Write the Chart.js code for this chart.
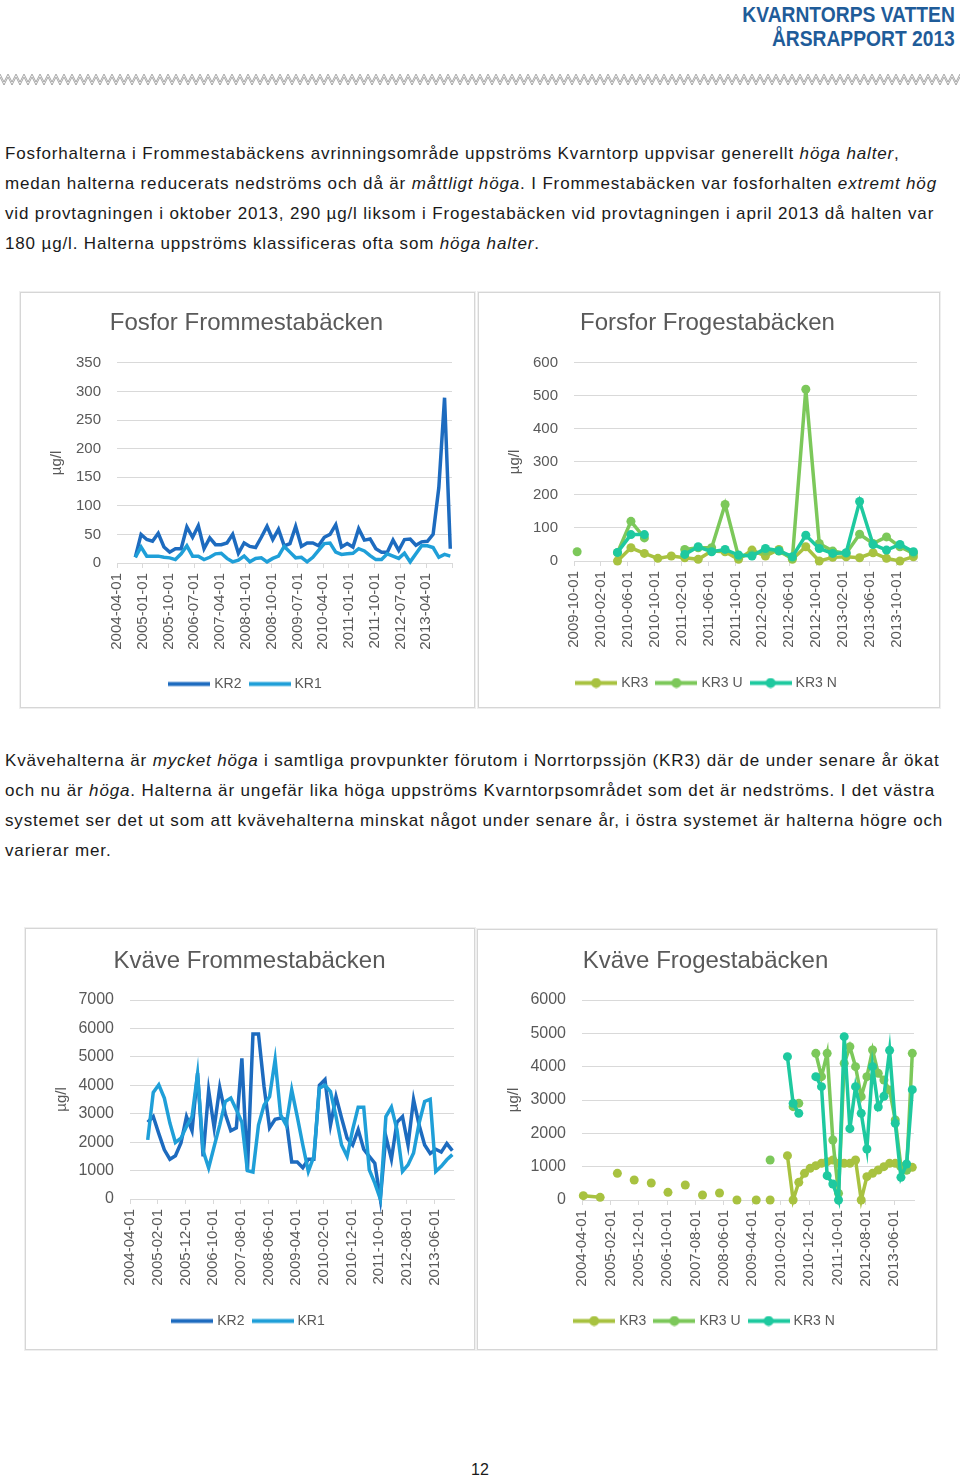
<!DOCTYPE html>
<html lang="sv">
<head>
<meta charset="utf-8">
<title>Kvarntorps vatten – årsrapport 2013</title>
<script src="https://cdn.jsdelivr.net/npm/chart.js@4.4.1/dist/chart.umd.min.js"></script>
<style>
  body { margin: 0; width: 960px; height: 1478px; position: relative; background: #fff; overflow: hidden;
         font-family: "Liberation Sans", Arial, sans-serif; }
  .hdr { position: absolute; right: 5px; top: 3px; text-align: right; font-family: "Liberation Sans", Arial, sans-serif;
         font-weight: bold; font-size: 22px; line-height: 24px; color: #1f5c99;
         transform: scaleX(0.875); transform-origin: right top; }
  .zig { position: absolute; left: 0; top: 72px; }
  .txt { position: absolute; left: 5px; font-size: 17px; line-height: 30px; color: #1a1a1a; white-space: nowrap; letter-spacing: 0.85px; }
  .box { position: absolute; box-sizing: border-box; border: 1px solid #d6d6d6; box-shadow: 0 0 0 1px #efefef; }
  .box canvas { position: absolute; left: -1px; top: -1px; }
  .pg { position: absolute; left: 0; width: 960px; top: 1461px; text-align: center; font-size: 16px; color: #1a1a1a; }
</style>
</head>
<body>

<div class="hdr">KVARNTORPS VATTEN<br>ÅRSRAPPORT 2013</div>

<svg class="zig" width="960" height="16">
  <defs>
    <pattern id="zz" width="8" height="16" patternUnits="userSpaceOnUse">
      <path d="M0 2 L4 10 L8 2" fill="none" stroke="#8c8c8c" stroke-width="0.8"/>
      <path d="M0 5 L4 13 L8 5" fill="none" stroke="#8c8c8c" stroke-width="0.8"/>
    </pattern>
  </defs>
  <rect width="960" height="16" fill="url(#zz)"/>
</svg>

<div class="txt" style="top:139px">
Fosforhalterna i Frommestabäckens avrinningsområde uppströms Kvarntorp uppvisar generellt <i>höga halter</i>,<br>
medan halterna reducerats nedströms och då är <i>måttligt höga</i>. I Frommestabäcken var fosforhalten <i>extremt hög</i><br>
vid provtagningen i oktober 2013, 290 µg/l liksom i Frogestabäcken vid provtagningen i april 2013 då halten var<br>
180 µg/l. Halterna uppströms klassificeras ofta som <i>höga halter</i>.
</div>

<div class="box" style="left:20px;top:292px;width:455px;height:416px"><canvas id="fosforFromme" width="455" height="416"></canvas></div>
<div class="box" style="left:478px;top:292px;width:462px;height:416px"><canvas id="fosforFroge" width="462" height="416"></canvas></div>

<div class="txt" style="top:746px">
Kvävehalterna är <i>mycket höga</i> i samtliga provpunkter förutom i Norrtorpssjön (KR3) där de under senare år ökat<br>
och nu är <i>höga</i>. Halterna är ungefär lika höga uppströms Kvarntorpsområdet som det är nedströms. I det västra<br>
systemet ser det ut som att kvävehalterna minskat något under senare år, i östra systemet är halterna högre och<br>
varierar mer.
</div>

<div class="box" style="left:25px;top:928px;width:450px;height:422px"><canvas id="kvaveFromme" width="450" height="422"></canvas></div>
<div class="box" style="left:477px;top:929px;width:460px;height:421px"><canvas id="kvaveFroge" width="460" height="421"></canvas></div>

<div class="pg">12</div>

<script>
// Provtagningsdatum Frommestabäcken (KR1, KR2)
const frommeDates = [
  '2004-10-13', '2004-12-13',
  '2005-02-13', '2005-04-13', '2005-06-13', '2005-08-13', '2005-10-13', '2005-12-13',
  '2006-02-13', '2006-04-13', '2006-06-13', '2006-08-13', '2006-10-13', '2006-12-13',
  '2007-02-13', '2007-04-13', '2007-06-13', '2007-08-13', '2007-10-13', '2007-12-13',
  '2008-02-13', '2008-04-13', '2008-06-13', '2008-08-13', '2008-10-13', '2008-12-13',
  '2009-02-13', '2009-04-13', '2009-06-13', '2009-08-13', '2009-10-13', '2009-12-13',
  '2010-02-13', '2010-04-13', '2010-06-13', '2010-08-13', '2010-10-13', '2010-12-13',
  '2011-02-13', '2011-04-13', '2011-06-13', '2011-08-13', '2011-10-13', '2011-12-13',
  '2012-02-13', '2012-04-13', '2012-06-13', '2012-08-13', '2012-10-13', '2012-12-13',
  '2013-02-13', '2013-04-13', '2013-06-13', '2013-08-13', '2013-10-13', '2013-12-13'
];

// Fosfor µg/l
const kr2Fosfor = [10, 50, 41, 38, 52, 28, 19, 25, 25, 63, 45, 65, 25, 44, 32, 32, 35, 50, 17, 35,
  29, 27, 45, 64, 41, 59, 30, 34, 64, 29, 35, 35, 30, 45, 50, 67, 28, 34, 28, 60,
  40, 42, 25, 19, 19, 40, 22, 41, 42, 31, 37, 38, 50, 132, 289, 25];
const kr1Fosfor = [10, 28, 12, 12, 12, 10, 9, 6, 16, 30, 12, 12, 6, 10, 16, 17, 8, 2, 5, 12,
  2, 8, 9, 2, 8, 12, 29, 19, 9, 10, 2, 10, 22, 34, 35, 19, 15, 16, 17, 25,
  21, 13, 6, 6, 16, 12, 8, 17, 2, 16, 30, 30, 27, 10, 15, 12];

// Kväve µg/l
const kr2Kvave = [2700, 2900, 2300, 1730, 1400, 1520, 1970, 2900, 2400, 4430,
  1500, 3820, 2500, 3920, 3000, 2400, 2500, 4950, 1000, 5800,
  5800, 3960, 2500, 2800, 2850, 2800, 1300, 1300, 1100, 1400,
  1400, 4000, 4200, 2600, 3600, 2850, 2140, 1900, 2440, 1750,
  1500, 1260, 0, 2200, 1400, 2700, 2900, 1900, 3500, 2600,
  1900, 1600, 1750, 1650, 1950, 1700];
const kr1Kvave = [2080, 3750, 4020, 3550, 2670, 1990, 2140, 2550, 2900, 4400,
  1700, 1090, 1850, 2600, 3430, 3550, 3140, 2700, 1000, 950,
  2600, 3300, 3600, 4900, 2960, 2600, 3840, 2900, 1900, 970,
  1500, 3900, 4000, 3780, 2900, 1900, 1500, 2440, 3230, 3230,
  1030, 560, 0, 2900, 3230, 2440, 970, 1200, 1620, 2670,
  3430, 3510, 970, 1150, 1380, 1560];

// Frogestabäcken fosfor (null = inget prov)
const frogeFosforDates = ['2009-10-15', '2010-01-15',
  '2010-04-15', '2010-06-15', '2010-08-15', '2010-10-15', '2010-12-15',
  '2011-02-15', '2011-04-15', '2011-06-15', '2011-08-15', '2011-10-15', '2011-12-15',
  '2012-02-15', '2012-04-15', '2012-06-15', '2012-08-15', '2012-10-15', '2012-12-15',
  '2013-02-15', '2013-04-15', '2013-06-15', '2013-08-15', '2013-10-15', '2013-12-15'];
const kr3Fosfor  = [null, null, 0, 40, 23, 8, 15, 10, 5, 30, 28, 5, 33, 15, 35, 5, 43, 0, 11, 13, 10, 25, 8, 0, 13];
const kr3uFosfor = [28, null, 25, 120, 70, null, null, 35, 40, 40, 171, 13, 20, 30, 30, 8, 520, 53, 30, 23, 81, 53, 73, 43, 23];
const kr3nFosfor = [null, null, 26, 80, 80, null, null, 20, 43, 28, 35, 18, 15, 38, 31, 13, 78, 38, 23, 25, 180, 50, 33, 50, 28];

// Frogestabäcken kväve
const frogeKvaveDates = ['2004-04-15', '2004-10-13', '2005-01-15', '2005-04-15', '2005-07-15', '2005-10-13',
  '2006-01-15', '2006-04-13', '2006-07-15', '2006-10-10', '2007-01-15', '2007-04-13', '2007-07-15',
  '2007-10-15', '2008-01-15', '2008-04-15', '2008-07-15', '2008-10-19', '2009-02-01', '2009-05-13',
  '2009-08-01', '2009-10-10', '2010-01-15',
  '2010-04-13', '2010-06-13', '2010-08-13', '2010-10-13', '2010-12-13',
  '2011-02-13', '2011-04-13', '2011-06-13', '2011-08-13', '2011-10-13', '2011-12-13',
  '2012-02-13', '2012-04-13', '2012-06-13', '2012-08-13', '2012-10-13', '2012-12-13',
  '2013-02-13', '2013-04-13', '2013-06-13', '2013-08-13', '2013-10-13', '2013-12-13'];
const kr3Kvave = [130, 80, null, 800, null, 600, null, 510, null, 230, null, 450, null, 150, null, 210, null, 0, null, 0, null, 0, null,
  1330, 0, 530, 800, 950, 1030, 1100, 1150, 1200, 1100, 1100, 1100, 1200, 0, 700, 800, 900, 1000, 1100, 1100, 1000, 900, 980];
const kr3uKvave = [null, null, null, null, null, null, null, null, null, null, null, null, null, null, null, null, null, null, null, null, null, 1200, null,
  null, 2800, 2900, null, null, 4400, 3700, 4400, 1800, 200, 4100, 4600, 4000, 3100, 3700, 4500, 3800, 3600, 3300, 2400, 1000, 900, 4400];
const kr3nKvave = [null, null, null, null, null, null, null, null, null, null, null, null, null, null, null, null, null, null, null, null, null, null, null,
  4300, 2900, 2600, null, null, 3700, 3400, 730, 480, 0, 4900, 2140, 3400, 2600, 1530, 4000, 2790, 3110, 4490, 2300, 680, 1080, 3310];

// Axeletiketter
const frommeFosforTicks = ['2004-04-01', '2005-01-01', '2005-10-01', '2006-07-01', '2007-04-01', '2008-01-01', '2008-10-01',
  '2009-07-01', '2010-04-01', '2011-01-01', '2011-10-01', '2012-07-01', '2013-04-01'];
const frogeFosforTicks = ['2009-10-01', '2010-02-01', '2010-06-01', '2010-10-01', '2011-02-01', '2011-06-01', '2011-10-01',
  '2012-02-01', '2012-06-01', '2012-10-01', '2013-02-01', '2013-06-01', '2013-10-01'];
const kvaveTicks = ['2004-04-01', '2005-02-01', '2005-12-01', '2006-10-01', '2007-08-01', '2008-06-01', '2009-04-01',
  '2010-02-01', '2010-12-01', '2011-10-01', '2012-08-01', '2013-06-01'];
const axisEnd = '2014-01-01';

const blueDark = '#1d6bbf', blueLight = '#1f9fd8';
const olive = '#a8c240', green = '#7cc85a', teal = '#1ec99f';
const grey = '#595959', gridGrey = '#d9d9d9';

Chart.defaults.font.family = '"Liberation Sans", Arial, sans-serif';
Chart.defaults.color = grey;

// months since the first tick label
function monthsFrom(start, date) {
  const [y0, m0] = start.split('-').map(Number);
  const [y, m, d] = date.split('-').map(Number);
  return (y - y0) * 12 + (m - m0) + (d - 1) / 30;
}

// legend sample: a line, with a dot for the marker series
function legendMark(color, dot) {
  const c = document.createElement('canvas');
  c.width = 42; c.height = 11;
  const g = c.getContext('2d');
  g.strokeStyle = color; g.lineWidth = 4;
  g.beginPath(); g.moveTo(0, 5.5); g.lineTo(42, 5.5); g.stroke();
  if (dot) {
    g.fillStyle = color;
    g.beginPath(); g.arc(21, 5.5, 5, 0, Math.PI * 2); g.fill();
  }
  return c;
}

function makeChart(id, o) {
  const start = o.ticks[0];
  const end = monthsFrom(start, axisEnd);
  const tickValues = o.ticks.map(t => monthsFrom(start, t));
  if (o.endTick) tickValues.push(end);

  const datasets = o.series.map((s, i) => ({
    label: s.label,
    data: s.values.map((v, j) => ({ x: monthsFrom(start, o.dates[j]), y: v })),
    borderColor: s.color,
    backgroundColor: s.color,
    borderWidth: 3.5,
    pointRadius: o.dots ? 4.5 : 0,
    pointBorderWidth: 0,
    pointBackgroundColor: s.color,
    tension: 0,
    spanGaps: false,
    clip: false,
    order: o.series.length - i
  }));

  return new Chart(document.getElementById(id), {
    type: 'line',
    data: { datasets },
    options: {
      responsive: false,
      animation: false,
      layout: { padding: o.pad },
      plugins: {
        title: { display: true, text: o.title, color: grey, font: { size: 24, weight: 'normal' }, padding: o.titlePad },
        legend: {
          position: 'bottom',
          labels: {
            usePointStyle: true, pointStyleWidth: 36, padding: 10, color: grey, font: { size: 14 },
            generateLabels: chart => chart.data.datasets.map((ds, i) => ({
              text: ds.label,
              pointStyle: legendMark(ds.borderColor, o.dots),
              fillStyle: ds.borderColor, strokeStyle: ds.borderColor, lineWidth: 0,
              fontColor: grey, hidden: false, datasetIndex: i
            }))
          }
        },
        tooltip: { enabled: false }
      },
      scales: {
        x: {
          type: 'linear', min: 0, max: end,
          afterBuildTicks: s => { s.ticks = tickValues.map(v => ({ value: v })); },
          afterFit: s => { s.height = o.xHeight; },
          ticks: {
            autoSkip: false, minRotation: 90, maxRotation: 90, padding: 5, color: grey, font: { size: 15 },
            callback: v => { const i = tickValues.indexOf(v); return i >= 0 && i < o.ticks.length ? o.ticks[i] : ''; }
          },
          grid: { drawOnChartArea: false, tickLength: 5, color: gridGrey },
          border: { color: gridGrey }
        },
        y: {
          min: 0, max: o.yMax,
          afterFit: s => { s.width = o.yWidth; },
          ticks: { stepSize: o.yStep, padding: 16, color: grey, font: { size: o.yFont }, callback: v => String(v) },
          grid: { color: gridGrey, drawTicks: false },
          border: { display: false },
          title: { display: true, text: 'µg/l', color: grey, font: { size: 15 }, padding: { top: 8, bottom: 0 } }
        }
      }
    }
  });
}

makeChart('fosforFromme', {
  title: 'Fosfor Frommestabäcken', dates: frommeDates, ticks: frommeFosforTicks, endTick: true,
  series: [{ label: 'KR2', values: kr2Fosfor, color: blueDark }, { label: 'KR1', values: kr1Fosfor, color: blueLight }],
  yMax: 350, yStep: 50, yFont: 15, yWidth: 77, xHeight: 104,
  pad: { left: 20, right: 22, top: 0, bottom: 7 }, titlePad: { top: 17, bottom: 25 }
});

makeChart('fosforFroge', {
  title: 'Forsfor Frogestabäcken', dates: frogeFosforDates, ticks: frogeFosforTicks, dots: true,
  series: [{ label: 'KR3', values: kr3Fosfor, color: olive }, { label: 'KR3 U', values: kr3uFosfor, color: green },
           { label: 'KR3 N', values: kr3nFosfor, color: teal }],
  yMax: 600, yStep: 100, yFont: 15, yWidth: 76, xHeight: 105,
  pad: { left: 20, right: 23, top: 0, bottom: 8 }, titlePad: { top: 17, bottom: 25 }
});

makeChart('kvaveFromme', {
  title: 'Kväve Frommestabäcken', dates: frommeDates, ticks: kvaveTicks,
  series: [{ label: 'KR2', values: kr2Kvave, color: blueDark }, { label: 'KR1', values: kr1Kvave, color: blueLight }],
  yMax: 7000, yStep: 1000, yFont: 16, yWidth: 85, xHeight: 105,
  pad: { left: 20, right: 21, top: 0, bottom: 12 }, titlePad: { top: 18.6, bottom: 24.6 }
});

makeChart('kvaveFroge', {
  title: 'Kväve Frogestabäcken', dates: frogeKvaveDates, ticks: kvaveTicks, dots: true,
  series: [{ label: 'KR3', values: kr3Kvave, color: olive }, { label: 'KR3 U', values: kr3uKvave, color: green },
           { label: 'KR3 N', values: kr3nKvave, color: teal }],
  yMax: 6000, yStep: 1000, yFont: 16, yWidth: 85, xHeight: 104,
  pad: { left: 20, right: 23, top: 0, bottom: 12 }, titlePad: { top: 17.6, bottom: 24.6 }
});
</script>
</body>
</html>
